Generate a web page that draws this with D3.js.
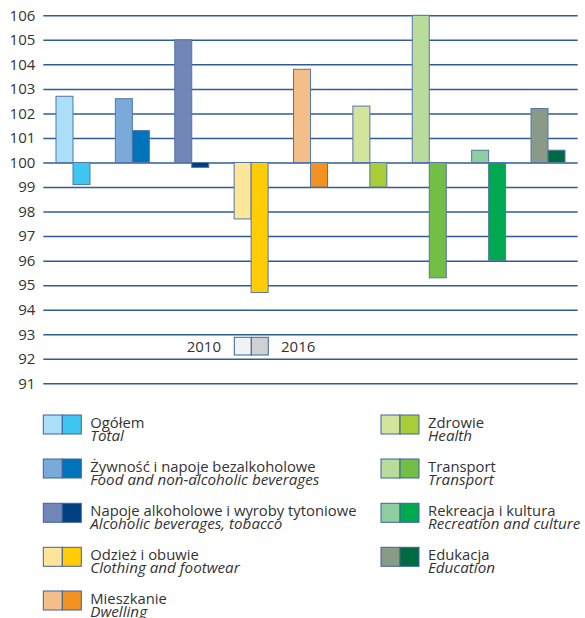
<!DOCTYPE html>
<html><head><meta charset="utf-8">
<script src="https://cdn.jsdelivr.net/npm/d3@7"></script>
<style>body{margin:0;background:#fff}svg{display:block}</style>
</head><body>
<svg id="c" width="585" height="618"></svg>
<script>
const categoriesPl = ["Ogółem","Żywność i napoje bezalkoholowe","Napoje alkoholowe i wyroby tytoniowe","Odzież i obuwie","Mieszkanie","Zdrowie","Transport","Rekreacja i kultura","Edukacja"];
const categoriesEn = ["Total","Food and non-alcoholic beverages","Alcoholic beverages, tobacco","Clothing and footwear","Dwelling","Health","Transport","Recreation and culture","Education"];
const years = ["2010","2016"];
const values2010 = [102.7,102.6,105.0,97.7,103.8,102.3,106.0,100.5,102.2];
const values2016 = [99.1,101.3,99.8,94.7,99.0,99.0,95.3,96.0,100.5];
const colors2010 = ["#abdff7","#7aaad9","#7186b6","#fde59a","#f3be88","#d2e49d","#b8dc9c","#8ecd9f","#899b88"];
const colors2016 = ["#40c7f1","#0073bd","#003f80","#ffcc05","#f39121","#a8cd39","#73bf45","#00a850","#006b41"];
const yTicks = d3.range(91,107);
const legendYearColors = ["#f0f2f4","#d0d1d3"];

(function(){
const svg = d3.select("#c");
const font = "'Open Sans', sans-serif";
const pLeft = 43.3, pRight = 577.7, pTop = 15.3, pBottom = 383.3;

const x = d3.scaleBand().domain(categoriesPl).range([pLeft,pRight]).padding(0);
const x1 = d3.scaleBand().domain(years).range([0,x.bandwidth()]).paddingInner(0).paddingOuter(0.747);
const y = d3.scaleLinear().domain([91,106]).range([pBottom,pTop]);

// axis + gridlines
const ax = svg.append("g").attr("transform",`translate(${pLeft},0)`)
  .call(d3.axisLeft(y).tickValues(yTicks).tickSize(-(pRight-pLeft)).tickPadding(8).tickFormat(d3.format("d")));
ax.select(".domain").remove();
ax.selectAll(".tick line").attr("stroke","#2f5c96").attr("stroke-width",1.5);
ax.selectAll(".tick text").attr("fill","#333").style("font-family",font).style("font-size","15px");

// bars
const data = [];
categoriesPl.forEach((c,i)=>{
  data.push({c, year:"2010", v:values2010[i], col:colors2010[i]});
  data.push({c, year:"2016", v:values2016[i], col:colors2016[i]});
});
svg.append("g").selectAll("rect").data(data).join("rect")
  .attr("x",d=>x(d.c)+x1(d.year))
  .attr("width",x1.bandwidth())
  .attr("y",d=>Math.min(y(d.v),y(100)))
  .attr("height",d=>Math.abs(y(d.v)-y(100)))
  .attr("fill",d=>d.col)
  .attr("stroke","#5476a8").attr("stroke-width",1);

// in-plot year legend
const lg = svg.append("g");
lg.append("text").attr("x",221).attr("y",352).attr("text-anchor","end")
  .attr("fill","#333").style("font-family",font).style("font-size","15px").text(years[0]);
lg.selectAll("rect").data(years).join("rect")
  .attr("x",(d,i)=>234.3+i*17).attr("y",337.3).attr("width",17).attr("height",17.7)
  .attr("fill",(d,i)=>legendYearColors[i]).attr("stroke","#3d62a0").attr("stroke-width",1);
lg.append("text").attr("x",281).attr("y",352)
  .attr("fill","#333").style("font-family",font).style("font-size","15px").text(years[1]);

// bottom legend
const rowY = [415,459,503.3,547.3,591];
const items = categoriesPl.map((c,i)=>({
  pl:c, en:categoriesEn[i], c1:colors2010[i], c2:colors2016[i],
  sx: i<5 ? 43.3 : 381, ty: rowY[i<5 ? i : i-5]
}));
const li = svg.append("g").selectAll("g").data(items).join("g")
  .attr("transform",d=>`translate(${d.sx},${d.ty})`);
li.append("rect").attr("x",0).attr("y",0).attr("width",19).attr("height",19)
  .attr("fill",d=>d.c1).attr("stroke","#3d62a0").attr("stroke-width",1);
li.append("rect").attr("x",19).attr("y",0).attr("width",19).attr("height",19)
  .attr("fill",d=>d.c2).attr("stroke","#3d62a0").attr("stroke-width",1);
li.append("text").attr("x",47).attr("y",12.5).attr("fill","#333")
  .style("font-family",font).style("font-size","14.8px").text(d=>d.pl);
li.append("text").attr("x",47).attr("y",25.8).attr("fill","#333")
  .style("font-family",font).style("font-size","15.2px").style("font-style","italic").text(d=>d.en);
})();
</script>
</body></html>
